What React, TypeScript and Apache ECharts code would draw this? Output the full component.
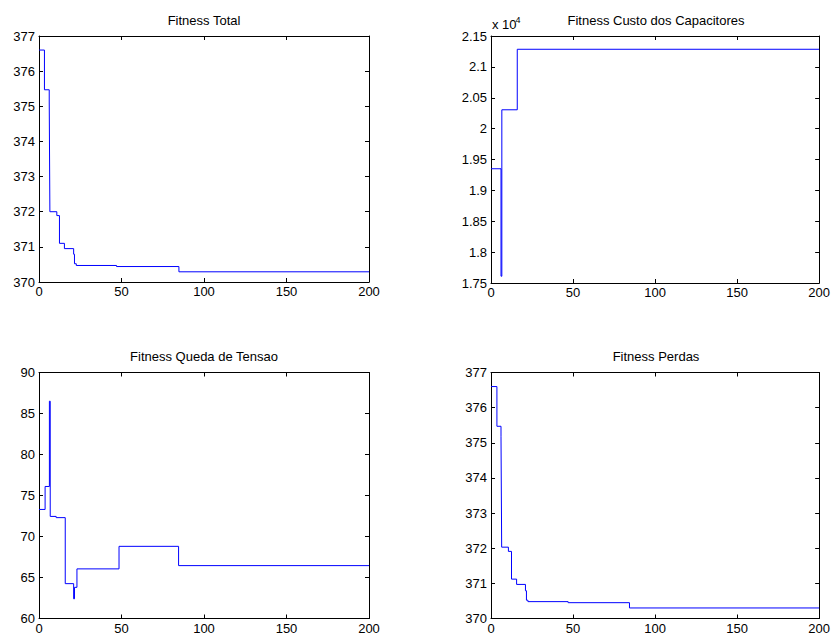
import React, { useEffect, useRef } from "react";
import * as echarts from "echarts";

// Fitness Total (step changes: generation, value)
const totalX = [0, 3.3, 6.2, 6.6, 10.8, 12.4, 15.4, 21, 21.5, 22.6, 47, 84.8, 200];
const totalY = [376.6, 375.47, 375.15, 372.0, 371.89, 371.1, 370.95, 370.79, 370.52, 370.47, 370.44, 370.29, 370.29];

// Fitness Custo dos Capacitores
const custoX = [0, 6.1, 6.6, 16, 200];
const custoY = [19350, 17610, 20305, 21285, 21285];

// Fitness Queda de Tensao
const quedaX = [0, 3.7, 6.3, 6.8, 10.4, 15.9, 21, 21.5, 23, 48.5, 84.6, 200];
const quedaY = [73.3, 76.1, 86.5, 72.45, 72.3, 64.25, 62.4, 63.8, 66.05, 68.8, 66.45, 66.45];

// Fitness Perdas
const perdasX = [0, 3.6, 6.1, 6.5, 10.6, 12.5, 15.6, 21, 21.6, 22.5, 47, 84.4, 200];
const perdasY = [376.6, 375.47, 375.17, 372.03, 371.91, 371.12, 370.97, 370.79, 370.52, 370.48, 370.45, 370.3, 370.3];

const titles = ["Fitness Total", "Fitness Custo dos Capacitores", "Fitness Queda de Tensao", "Fitness Perdas"];
const xTicks = { min: 0, max: 200, interval: 50 };
const yRanges = [
  { min: 370, max: 377, interval: 1 },
  { min: 17500, max: 21500, interval: 500 },
  { min: 60, max: 90, interval: 5 },
  { min: 370, max: 377, interval: 1 },
];

const FONT = "'Liberation Sans', Arial, Helvetica, sans-serif";

export default function App() {
  const ref = useRef<HTMLDivElement>(null);
  useEffect(() => {
    if (!ref.current) return;
    const chart = echarts.init(ref.current, undefined, { renderer: "svg" });
    const grids = [
      { left: 39, top: 36, width: 330, height: 246 },
      { left: 491, top: 36, width: 330, height: 247 },
      { left: 39, top: 372.5, width: 330, height: 246 },
      { left: 491, top: 372.5, width: 330, height: 246 },
    ];
    const seriesData = [
      [totalX, totalY],
      [custoX, custoY],
      [quedaX, quedaY],
      [perdasX, perdasY],
    ];
    const lineStyle = { color: "#000", width: 1 };
    const xAxis: any[] = [];
    const yAxis: any[] = [];
    const series: any[] = [];
    const graphic: any[] = [];
    grids.forEach((g, i) => {
      const base = {
        type: "value",
        gridIndex: i,
        splitLine: { show: false },
        axisLine: { show: true, onZero: false, lineStyle },
        axisTick: { show: true, inside: true, length: 4, lineStyle },
      };
      xAxis.push({
        ...base,
        ...xTicks,
        position: "bottom",
        axisLabel: { color: "#000", fontSize: 13, fontFamily: FONT, margin: 3 },
      });
      xAxis.push({ ...base, ...xTicks, position: "top", axisLabel: { show: false } });
      yAxis.push({
        ...base,
        ...yRanges[i],
        position: "left",
        axisLabel: {
          color: "#000",
          fontSize: 13,
          fontFamily: FONT,
          margin: 4,
          formatter: (v: number) =>
            i === 1 ? String(parseFloat((v / 10000).toFixed(2))) : String(v),
        },
      });
      yAxis.push({ ...base, ...yRanges[i], position: "right", axisLabel: { show: false } });
      const [xs, ys] = seriesData[i];
      series.push({
        type: "line",
        xAxisIndex: i * 2,
        yAxisIndex: i * 2,
        step: "end",
        showSymbol: false,
        symbol: "none",
        lineStyle: { color: "#0000ff", width: 1 },
        data: xs.map((x, k) => [x, ys[k]]),
      });
      graphic.push({
        type: "text",
        x: g.left + g.width / 2,
        y: g.top - 16,
        style: {
          text: titles[i],
          fill: "#000",
          fontSize: 13,
          fontFamily: FONT,
          align: "center",
          verticalAlign: "middle",
        },
      });
    });
    graphic.push({
      type: "text",
      x: 492,
      y: 24.5,
      style: { text: "x 10", fill: "#000", fontSize: 13, fontFamily: FONT, align: "left", verticalAlign: "middle" },
    });
    graphic.push({
      type: "text",
      x: 515.5,
      y: 19.5,
      style: { text: "4", fill: "#000", fontSize: 9, fontFamily: FONT, align: "left", verticalAlign: "middle" },
    });
    chart.setOption({
      animation: false,
      backgroundColor: "#fff",
      grid: grids,
      xAxis,
      yAxis,
      series,
      graphic,
    });
    return () => chart.dispose();
  }, []);
  return (
    <div
      ref={ref}
      style={{ position: "absolute", left: 0, top: 0, width: 833, height: 637 }}
    />
  );
}
